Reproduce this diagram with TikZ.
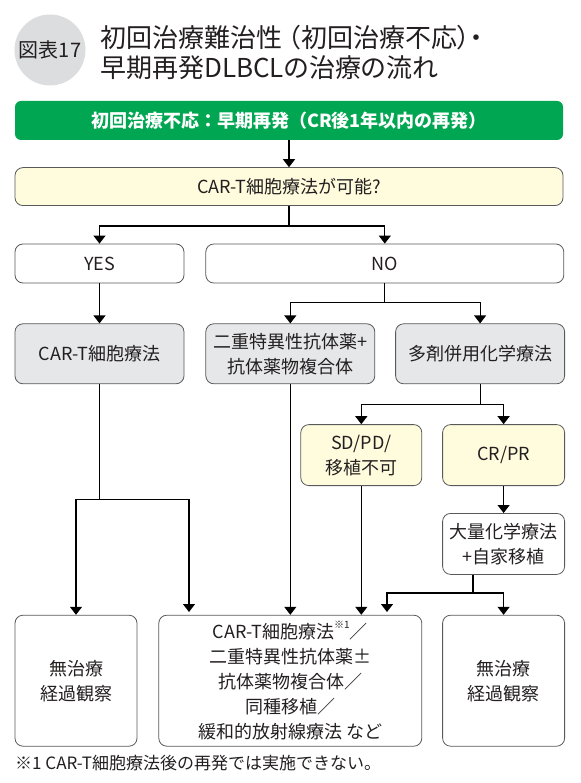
\documentclass[tikz,border=0pt]{standalone}
\usepackage{fontspec}
\setmainfont{Noto Sans CJK JP}
\usepackage{tikz}
\usetikzlibrary{positioning,arrows.meta,calc}

\definecolor{bargreen}{RGB}{0,166,81}
\definecolor{askyellow}{RGB}{255,252,222}
\definecolor{stepgray}{RGB}{230,231,232}
\definecolor{circgray}{RGB}{220,221,222}
\definecolor{linegray}{RGB}{88,89,91}
\definecolor{inkdark}{RGB}{35,31,32}

\newcommand{\boxfont}{\fontsize{18}{25}\selectfont}

\begin{document}
\begin{tikzpicture}[x=1pt,y=-1pt,
		box/.style={shape=rectangle,draw=linegray,line width=0.8pt,rounded corners=8pt,inner sep=0pt,align=center,text=inkdark,font=\boxfont},
		link/.style={line width=1.2pt,draw=black,-{Triangle[width=12pt,length=8pt]}},
		wire/.style={line width=1.2pt,draw=black}]
		\useasboundingbox (0,0) rectangle (580,783);
		\node(badge) at (50,50) [shape=circle,fill=circgray,minimum size=71pt,inner sep=0pt,text=inkdark,font=\fontsize{20}{20}\selectfont] {図表17};
		\node(title) at (100,52) [anchor=west,align=left,inner sep=0pt,text=inkdark,font=\fontsize{26}{30}\selectfont\addfontfeatures{RawFeature=+palt}] {初回治療難治性 （初回治療不応）・\\早期再発DLBCLの治療の流れ};
		\node(bar) at (289,120.5) [shape=rectangle,fill=bargreen,rounded corners=6pt,minimum width=548pt,minimum height=39pt,inner sep=0pt,text=white,font=\fontsize{18}{20}\selectfont\bfseries] {初回治療不応：早期再発（CR後1年以内の再発）};
		\node(ask) [below=27pt of bar,box,fill=askyellow,minimum width=548pt,minimum height=38pt] {CAR-T細胞療法が可能?};
		\node(yes) at (99.5,263.5) [box,minimum width=169pt,minimum height=39pt] {YES};
		\node(no) [right=21pt of yes,box,minimum width=358pt,minimum height=39pt] {NO};
		\node(cart) [below=40pt of yes,box,fill=stepgray,minimum width=169pt,minimum height=60pt] {CAR-T細胞療法};
		\node(bispec) [right=21pt of cart,box,fill=stepgray,minimum width=169pt,minimum height=60pt] {二重特異性抗体薬+\\抗体薬物複合体};
		\node(chemo) [right=20pt of bispec,box,fill=stepgray,minimum width=169pt,minimum height=60pt] {多剤併用化学療法};
		\node(crpr) [below=40pt of chemo.south east,anchor=north east,box,fill=askyellow,minimum width=122pt,minimum height=61pt] {CR/PR};
		\node(sdpd) [left=20pt of crpr,box,fill=askyellow,minimum width=121pt,minimum height=61pt] {SD/PD/\\移植不可};
		\node(hdct) [below=27pt of crpr,box,minimum width=122pt,minimum height=61pt] {大量化学療法\\+自家移植};
		\node(obs2) [below=40pt of hdct,box,minimum width=122pt,minimum height=131pt] {無治療\\経過観察};
		\node(salv) [left=20pt of obs2,box,minimum width=263pt,minimum height=131pt] {CAR-T細胞療法\raisebox{0.55em}{\fontsize{10}{10}\selectfont ※1}／\\二重特異性抗体薬±\\抗体薬物複合体／\\同種移植／\\緩和的放射線療法 など};
		\node(obs1) [left=21pt of salv,box,minimum width=122pt,minimum height=131pt] {無治療\\経過観察};
		\node(note) at (15,763) [anchor=west,inner sep=0pt,text=inkdark,font=\fontsize{17}{18}\selectfont] {※1 CAR-T細胞療法後の再発では実施できない。};
		\coordinate(j1) at ([yshift=-20pt]ask.south);
		\coordinate(j2) at ([yshift=-19pt]no.south);
		\coordinate(j3) at ([yshift=-20pt]chemo.south);
		\coordinate(j5) at ([yshift=-115pt]cart.south);
		\coordinate(j4) at (473,593);
		\coordinate(c1) at (189,612);
		\coordinate(c4) at (387,612);
		\draw[link] (bar) -- (ask);
		\draw[wire] (ask) -- (j1);
		\draw[link] (j1) -| (yes);
		\draw[link] (j1) -| (no);
		\draw[link] (yes) -- (cart);
		\draw[wire] (no) -- (j2);
		\draw[link] (j2) -| (bispec);
		\draw[link] (j2) -| (chemo);
		\draw[wire] (chemo) -- (j3);
		\draw[link] (j3) -| (sdpd);
		\draw[link] (j3) -| (crpr);
		\draw[link] (crpr) -- (hdct);
		\draw[wire] (hdct.south -| j4) -- (j4);
		\draw[link] (j4) -| (c4);
		\draw[link] (j4) -| (obs2);
		\draw[wire] (cart) -- (j5);
		\draw[link] (j5) -| (obs1);
		\draw[link] (j5) -| (c1);
		\draw[link] (bispec) -- (salv);
		\draw[link] (sdpd) -- (sdpd |- salv.north);
	\end{tikzpicture}
\end{document}
